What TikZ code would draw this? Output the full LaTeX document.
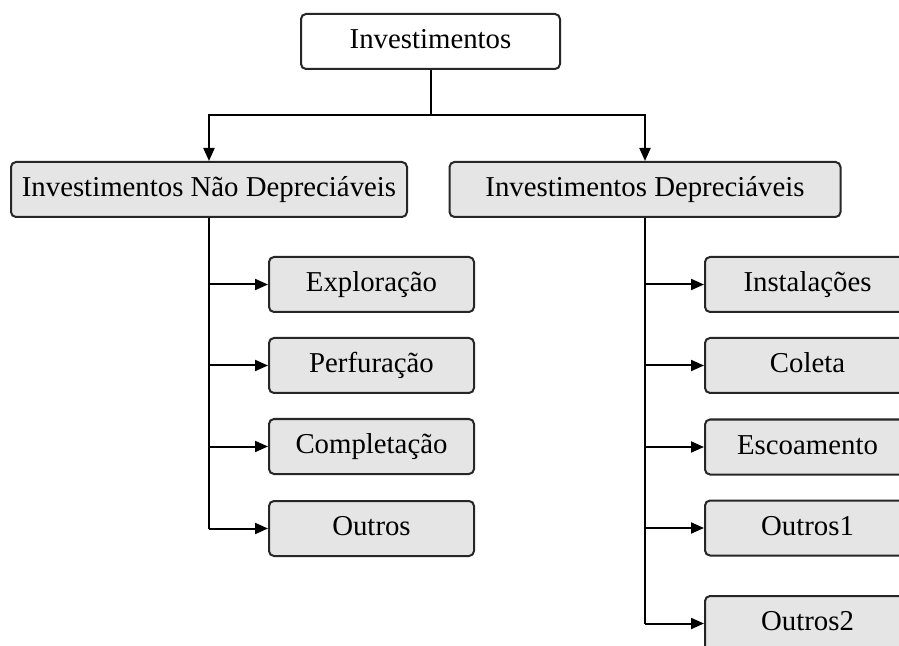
\documentclass[tikz,border=0pt]{standalone}
\usepackage{fontspec}
\setmainfont{Liberation Serif}
\usetikzlibrary{arrows.meta}

\begin{document}
\begin{tikzpicture}
  [x=0.5pt,y=-0.5pt,
   every node/.style={draw=black!85,line width=1pt,rounded corners=2.5pt,
     fill=black!10,minimum height=27.5pt,inner sep=0pt,
     text height=0.74em,text depth=0pt,
     font=\fontsize{14.4}{17}\selectfont},
   arr/.style={line width=1pt,-{Triangle[length=6.5pt,width=5.5pt]}}]
  \useasboundingbox (0,0) rectangle (899,646);

  \node[fill=white,minimum width=129.5pt] (inv) at (430.5,41.5) {Investimentos};
  \node[minimum width=198pt] (nd) at (209,189.5) {Investimentos Não Depreciáveis};
  \node[minimum width=195.5pt] (d) at (645,189.5) {Investimentos Depreciáveis};

  \node[minimum width=102.5pt] (nd1) at (371.5,284.5) {Exploração};
  \node[minimum width=102.5pt] (nd2) at (371.5,365.5) {Perfuração};
  \node[minimum width=102.5pt] (nd3) at (371.5,446.5) {Completação};
  \node[minimum width=102.5pt] (nd4) at (371.5,528.5) {Outros};

  \node[minimum width=102.5pt] (d1) at (807.5,284.5) {Instalações};
  \node[minimum width=102.5pt] (d2) at (807.5,365.5) {Coleta};
  \node[minimum width=102.5pt] (d3) at (807.5,447) {Escoamento};
  \node[minimum width=102.5pt] (d4) at (807.5,528) {Outros1};
  \node[minimum width=102.5pt] (d5) at (807.5,623.5) {Outros2};

  \coordinate (split) at (430.5,115);
  \draw[line width=1pt] (inv) -- (split);
  \draw[arr] (split) -| (nd);
  \draw[arr] (split) -| (d);

  \draw[line width=1pt] (nd.south) -- (nd.south |- nd4);
  \foreach \to in {nd1,nd2,nd3,nd4}
    \draw[arr] (nd.south |- \to) -- (\to.west);

  \draw[line width=1pt] (d.south) -- (d.south |- d5);
  \foreach \to in {d1,d2,d3,d4,d5}
    \draw[arr] (d.south |- \to) -- (\to.west);

\end{tikzpicture}
\end{document}
